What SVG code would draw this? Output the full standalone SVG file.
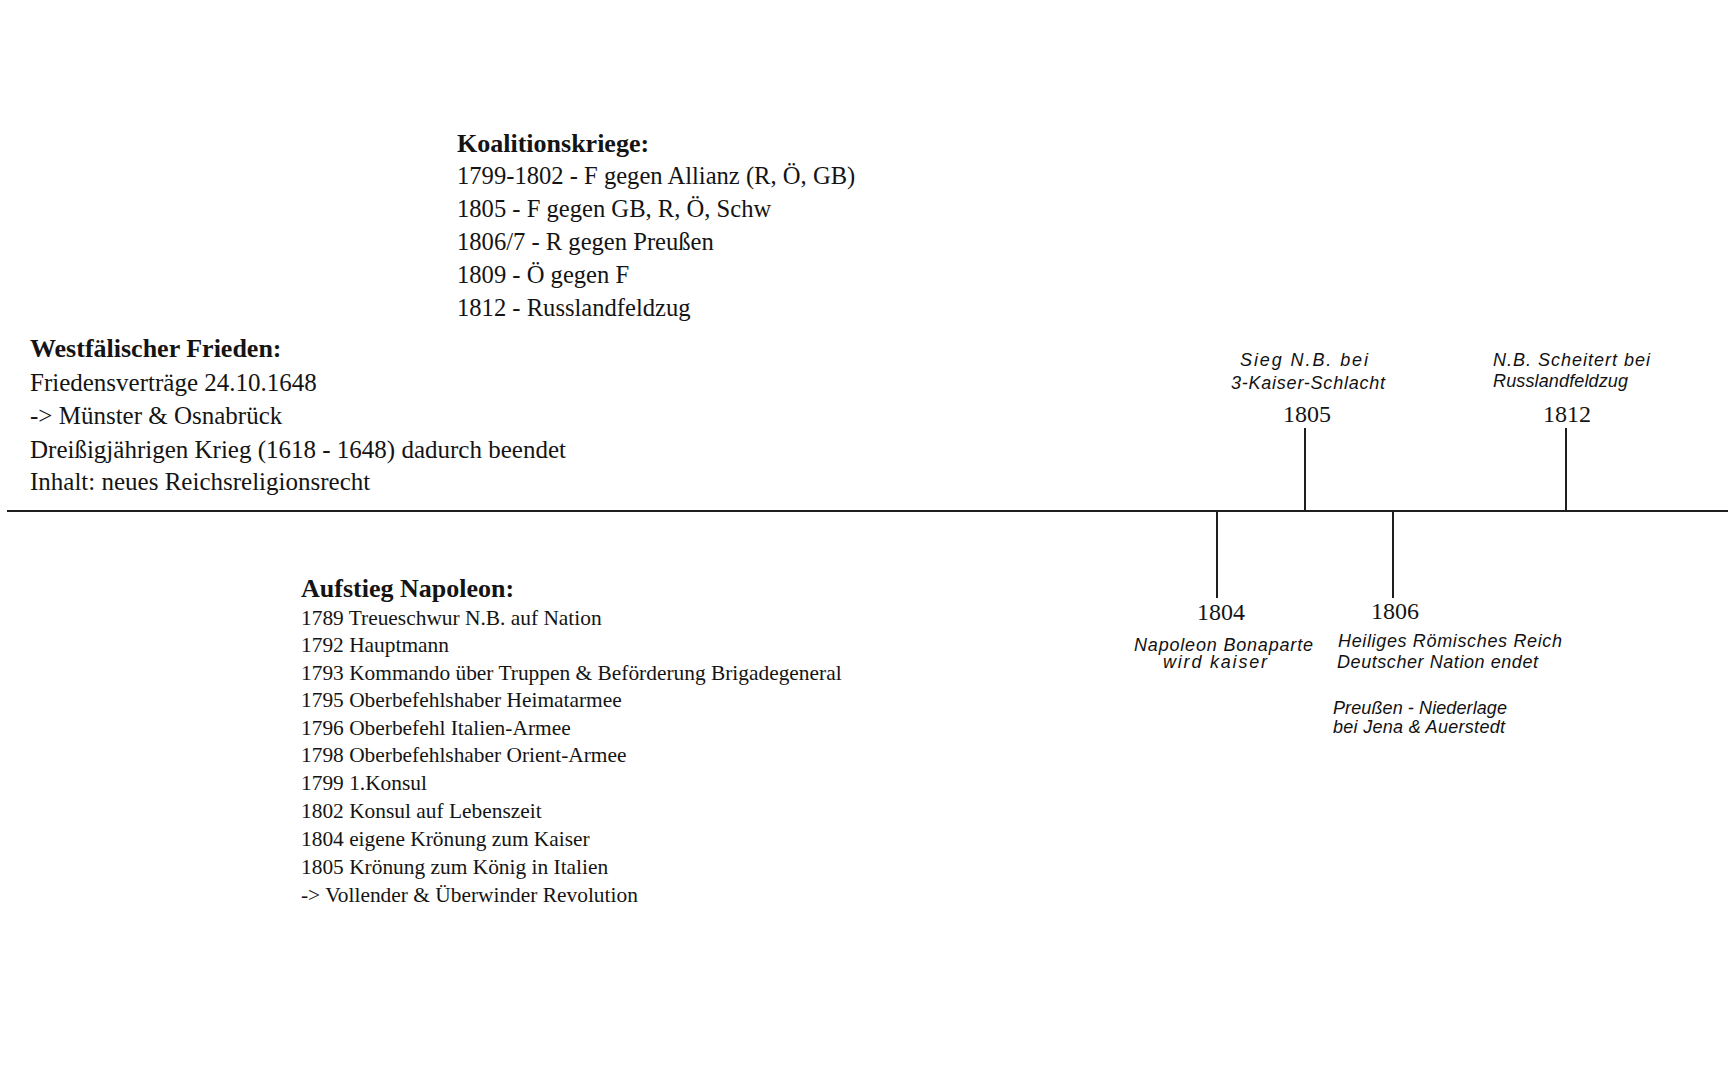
<svg xmlns="http://www.w3.org/2000/svg" width="1728" height="1080" viewBox="0 0 1728 1080">
  <style>
    .bg { fill: #ffffff; }
    .serif { font-family: "Liberation Serif", "Times New Roman", serif; fill: #141414; }
    .head { font-size: 26px; font-weight: bold; }
    .body { font-size: 25px; }
    .body24 { font-size: 24.6px; }
    .small { font-size: 21.4px; }
    .year { font-size: 24px; text-anchor: middle; }
    .hand { font-family: "Liberation Sans", "DejaVu Sans", sans-serif; font-size: 18px; font-style: italic; fill: #111; }
    .line { stroke: #1e1e1e; stroke-width: 2; fill: none; }
  </style>
  <rect class="bg" x="0" y="0" width="1728" height="1080"/>

  <g id="connectors">
    <line class="line" x1="7" y1="511" x2="1728" y2="511"/>
    <line class="line" x1="1305" y1="428" x2="1305" y2="511"/>
    <line class="line" x1="1566" y1="428" x2="1566" y2="511"/>
    <line class="line" x1="1217" y1="511" x2="1217" y2="598"/>
    <line class="line" x1="1393" y1="511" x2="1393" y2="598"/>
  </g>

  <g id="koalitionskriege" class="serif">
    <text class="head" x="457" y="152">Koalitionskriege:</text>
    <text class="body24" x="457" y="184">1799-1802 - F gegen Allianz (R, Ö, GB)</text>
    <text class="body24" x="457" y="217">1805 - F gegen GB, R, Ö, Schw</text>
    <text class="body24" x="457" y="250">1806/7 - R gegen Preußen</text>
    <text class="body24" x="457" y="283">1809 - Ö gegen F</text>
    <text class="body24" x="457" y="316">1812 - Russlandfeldzug</text>
  </g>

  <g id="westfaelischer-frieden" class="serif">
    <text class="head" x="30" y="357">Westfälischer Frieden:</text>
    <text class="body" x="30" y="391">Friedensverträge 24.10.1648</text>
    <text class="body" x="30" y="424">-&gt; Münster &amp; Osnabrück</text>
    <text class="body" x="30" y="458">Dreißigjährigen Krieg (1618 - 1648) dadurch beendet</text>
    <text class="body" x="30" y="490">Inhalt: neues Reichsreligionsrecht</text>
  </g>

  <g id="aufstieg-napoleon" class="serif">
    <text class="head" x="301" y="597">Aufstieg Napoleon:</text>
    <text class="small" x="301" y="625">1789 Treueschwur N.B. auf Nation</text>
    <text class="small" x="301" y="652">1792 Hauptmann</text>
    <text class="small" x="301" y="680">1793 Kommando über Truppen &amp; Beförderung Brigadegeneral</text>
    <text class="small" x="301" y="707">1795 Oberbefehlshaber Heimatarmee</text>
    <text class="small" x="301" y="735">1796 Oberbefehl Italien-Armee</text>
    <text class="small" x="301" y="762">1798 Oberbefehlshaber Orient-Armee</text>
    <text class="small" x="301" y="790">1799 1.Konsul</text>
    <text class="small" x="301" y="818">1802 Konsul auf Lebenszeit</text>
    <text class="small" x="301" y="846">1804 eigene Krönung zum Kaiser</text>
    <text class="small" x="301" y="874">1805 Krönung zum König in Italien</text>
    <text class="small" x="301" y="902">-&gt; Vollender &amp; Überwinder Revolution</text>
  </g>

  <g id="event-1805">
    <text class="hand" x="1240" y="366" textLength="128">Sieg N.B. bei</text>
    <text class="hand" x="1231" y="389" textLength="154">3-Kaiser-Schlacht</text>
    <text class="serif year" x="1307" y="422">1805</text>
  </g>

  <g id="event-1812">
    <text class="hand" x="1493" y="366" textLength="157">N.B. Scheitert bei</text>
    <text class="hand" x="1493" y="387" textLength="135">Russlandfeldzug</text>
    <text class="serif year" x="1567" y="422">1812</text>
  </g>

  <g id="event-1804">
    <text class="serif year" x="1221" y="620">1804</text>
    <text class="hand" x="1134" y="651" textLength="179">Napoleon Bonaparte</text>
    <text class="hand" x="1163" y="668" textLength="104">wird kaiser</text>
  </g>

  <g id="event-1806">
    <text class="serif year" x="1395" y="619">1806</text>
    <text class="hand" x="1338" y="647" textLength="224">Heiliges Römisches Reich</text>
    <text class="hand" x="1337" y="668" textLength="201">Deutscher Nation endet</text>
    <text class="hand" x="1333" y="714" textLength="174">Preußen - Niederlage</text>
    <text class="hand" x="1333" y="733" textLength="172">bei Jena &amp; Auerstedt</text>
  </g>
</svg>
